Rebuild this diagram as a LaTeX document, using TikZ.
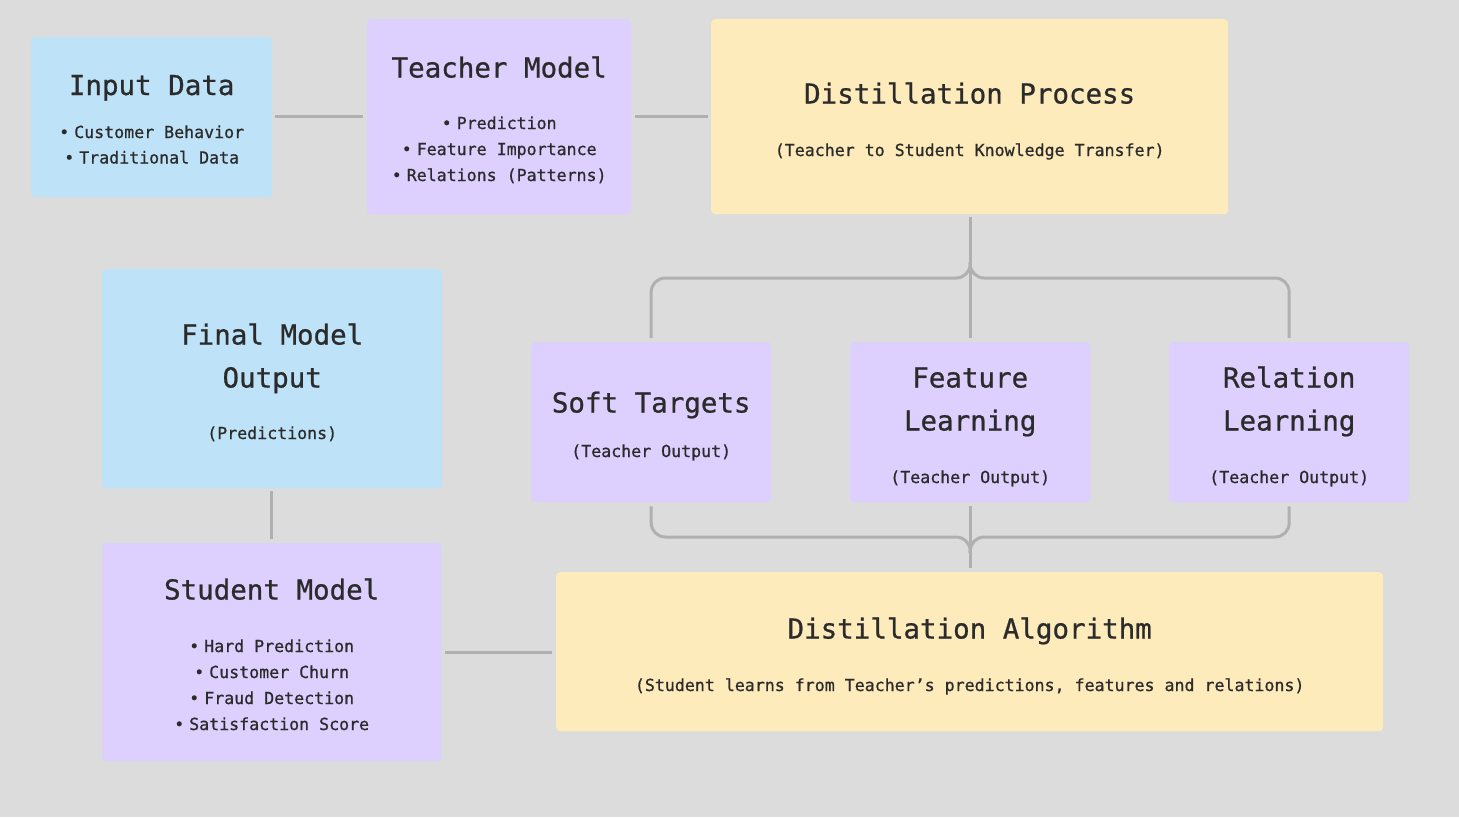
\documentclass[tikz,border=0pt]{standalone}
\usepackage{fontspec}
\newfontfamily\kdfont[FakeBold=0.8]{DejaVu Sans Mono}
\usetikzlibrary{calc}
\definecolor{KdBack}{HTML}{DCDCDC}
\definecolor{KdBlue}{HTML}{BEE3F8}
\definecolor{KdViolet}{HTML}{DDCFFE}
\definecolor{KdYellow}{HTML}{FEEBBB}
\definecolor{KdLink}{HTML}{B0B0B0}
\definecolor{KdText}{HTML}{2B2B2B}

\tikzset{
  box/.style={rectangle, rounded corners=4pt, inner sep=0pt, anchor=north west},
  title/.style={KdText, anchor=base, inner sep=0pt, font=\kdfont\fontsize{27.5}{30}\selectfont},
  body/.style={KdText, anchor=base, inner sep=0pt, font=\kdfont\fontsize{16.6}{18}\selectfont},
  link/.style={KdLink, line width=3pt, rounded corners=14pt},
}
\newcommand{\bul}{•\hspace{0.3em}}

\begin{document}
\begin{tikzpicture}[x=1pt, y=-1pt]
    % =========================================
    % 1. 背景
    % =========================================
    \fill[KdBack] (0,0) rectangle (1459,817);

    % =========================================
    % 2. 方框 (左上角定位)
    % =========================================
    \node[box, fill=KdBlue, minimum width=241pt, minimum height=160pt] (inp) at (31,37) {};
    \node[box, fill=KdViolet, minimum width=264pt, minimum height=195pt] (tea) at (367,19) {};
    \node[box, fill=KdYellow, minimum width=517pt, minimum height=195pt] (pro) at (711,19) {};
    \node[box, fill=KdBlue, minimum width=340pt, minimum height=219pt] (fin) at (102,269) {};
    \node[box, fill=KdViolet, minimum width=240pt, minimum height=160pt] (soft) at (531,342) {};
    \node[box, fill=KdViolet, minimum width=240pt, minimum height=160pt] (feat) at (850,342) {};
    \node[box, fill=KdViolet, minimum width=240pt, minimum height=160pt] (rel) at (1169,342) {};
    \node[box, fill=KdViolet, minimum width=339pt, minimum height=218pt] (stu) at (102,543) {};
    \node[box, fill=KdYellow, minimum width=827pt, minimum height=159pt] (alg) at (556,572) {};

    % =========================================
    % 3. 文字
    % =========================================
    % 输入数据
    \node[title] (inpT) at ($(inp.north)+(0,58)$) {Input Data};
    \node[body] (inpA) at ($(inp.north)+(0,101)$) {\bul Customer Behavior};
    \node[body] (inpB) at ($(inp.north)+(0,126.5)$) {\bul Traditional Data};

    % 教师模型
    \node[title] (teaT) at ($(tea.north)+(0,58.5)$) {Teacher Model};
    \foreach \txt [count=\i] in {Prediction, Feature Importance, Relations (Patterns)}
        \node[body] (tea\i) at ($(tea.north)+(0,84+26*\i)$) {\bul \txt};

    % 蒸馏过程
    \node[title] (proT) at ($(pro.north)+(0,84.5)$) {Distillation Process};
    \node[body] (proS) at ($(pro.north)+(0,137)$) {(Teacher to Student Knowledge Transfer)};

    % 最终输出
    \node[title] (finT) at ($(fin.north)+(0,75.5)$) {Final Model};
    \node[title] (finU) at ($(fin.north)+(0,118.5)$) {Output};
    \node[body] (finS) at ($(fin.north)+(0,170)$) {(Predictions)};

    % 三个分支
    \node[title] (softT) at ($(soft.north)+(0,70.5)$) {Soft Targets};
    \node[body] (softS) at ($(soft.north)+(0,115)$) {(Teacher Output)};
    \node[title] (featT) at ($(feat.north)+(0,45.5)$) {Feature};
    \node[title] (featU) at ($(feat.north)+(0,88.5)$) {Learning};
    \node[body] (featS) at ($(feat.north)+(0,141)$) {(Teacher Output)};
    \node[title] (relT) at ($(rel.north)+(0,45.5)$) {Relation};
    \node[title] (relU) at ($(rel.north)+(0,88.5)$) {Learning};
    \node[body] (relS) at ($(rel.north)+(0,141)$) {(Teacher Output)};

    % 学生模型
    \node[title] (stuT) at ($(stu.north)+(0,56.5)$) {Student Model};
    \foreach \txt [count=\i] in {Hard Prediction, Customer Churn, Fraud Detection, Satisfaction Score}
        \node[body] (stu\i) at ($(stu.north)+(0,83+26*\i)$) {\bul \txt};

    % 蒸馏算法
    \node[title] (algT) at ($(alg.north)+(0,66.5)$) {Distillation Algorithm};
    \node[body] (algS) at ($(alg.north)+(0,119)$) {(Student learns from Teacher’s predictions, features and relations)};

    % =========================================
    % 4. 连线
    % =========================================
    \draw[link, shorten <=3pt, shorten >=4pt] (inp.east |- 0,116) -- (tea.west |- 0,116);
    \draw[link, shorten <=4pt, shorten >=3pt] (tea.east |- 0,116) -- (pro.west |- 0,116);
    \draw[link, shorten <=3pt, shorten >=4pt] (stu.north |- fin.south) -- (stu.north);
    \draw[link, shorten <=4pt, shorten >=4pt] (stu.east |- 0,652) -- (alg.west |- 0,652);

    % 上方分叉
    \coordinate (topsplit) at ($(pro.south)+(0.5,48)$);
    \draw[link, shorten <=3pt, shorten >=4pt] (pro.south -| feat.north) -- (feat.north);
    \draw[link, shorten >=4pt] (topsplit) |- ($(soft.north)+(0,-64)$) -- (soft.north);
    \draw[link, shorten >=4pt] (topsplit) |- ($(rel.north)+(0,-64)$) -- (rel.north);

    % 下方汇合
    \coordinate (botsplit) at ($(alg.north -| feat.south)+(0,-19)$);
    \draw[link, shorten <=4pt, shorten >=4pt] (feat.south) -- (alg.north -| feat.south);
    \draw[link, shorten <=4pt] (soft.south) |- ($(botsplit)+(0,-16)$) -- (botsplit);
    \draw[link, shorten <=4pt] (rel.south) |- ($(botsplit)+(0,-16)$) -- (botsplit);

\end{tikzpicture}
\end{document}
